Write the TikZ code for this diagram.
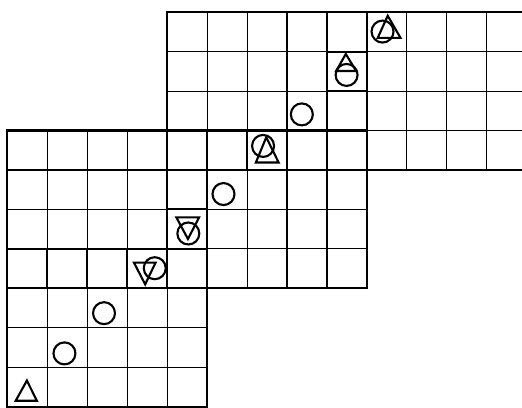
\documentclass[tikz,border=0pt]{standalone}
\usepackage{tikz}
\begin{document}
\begin{tikzpicture}[yscale=0.987,
    gridline/.style={line width=0.8pt},
    boxline/.style={line width=1.5pt, line cap=rect},
    ring/.style={draw, circle, line width=1.5pt, minimum size=0.55cm, inner sep=0pt},
    tri/.style={line width=1.5pt, line join=miter}]
        \useasboundingbox (-0.183,-0.033) rectangle (12.88,10.31);
        \clip (-0.183,-0.033) rectangle (12.88,10.31);

        % Board
        \begin{scope}
            \clip (0,0) -- (5,0) -- (5,3) -- (9,3) -- (9,6) -- (14,6) -- (14,10)
                -- (4,10) -- (4,7) -- (0,7) -- cycle;
            \draw[gridline] (0,0) grid (14,10);
        \end{scope}

        % Heavy lines
        \draw[boxline] (0,0) -- (5,0) -- (5,3) -- (9,3) -- (9,6) -- (14,6) -- (14,10)
            -- (4,10) -- (4,7) -- (0,7) -- cycle;
        \draw[boxline] (4,7) -- (9,7) -- (9,6);
        \draw[boxline] (4,7) -- (4,6) -- (9,6);
        \draw[boxline] (0,3) -- (5,3) -- (5,7);
        \draw[boxline] (4,3) -- (4,7);
        \draw[boxline] (0,4) -- (5,4);
        \draw[boxline] (1,3) -- (1,4) (2,3) -- (2,4) (3,3) -- (3,4);
        \draw[boxline] (4,5) -- (5,5);
        \draw[boxline] (6,6) -- (6,7) (7,6) -- (7,7);
        \draw[boxline] (8,6) -- (8,10) (9,6) -- (9,10);
        \draw[boxline] (8,8) -- (9,8) (8,9) -- (9,9);

        % Circles
        \node[ring] (c1) at (1.43,1.35) {};
        \node[ring] (c2) at (2.42,2.37) {};
        \node[ring] (c3) at (3.69,3.51) {};
        \node[ring] (c4) at (4.53,4.39) {};
        \node[ring] (c5) at (5.41,5.39) {};
        \node[ring] (c6) at (6.40,6.61) {};
        \node[ring] (c7) at (7.37,7.41) {};
        \node[ring] (c8) at (8.49,8.41) {};
        \node[ring] (c9) at (9.39,9.51) {};

        % Triangles
        \draw[tri] (0.21,0.15) -- (0.74,0.15) -- (0.49,0.66) -- cycle;
        \draw[tri] (3.17,3.65) -- (3.71,3.65) -- (3.45,3.10) -- cycle;
        \draw[tri] (4.23,4.80) -- (4.80,4.80) -- (4.52,4.25) -- cycle;
        \draw[tri] (6.22,6.19) -- (6.79,6.19) -- (6.48,6.83) -- cycle;
        \draw[tri] (8.23,8.51) -- (8.73,8.51) -- (8.47,8.94) -- cycle;
        \draw[tri] (9.27,9.35) -- (9.84,9.35) -- (9.52,9.91) -- cycle;
    \end{tikzpicture}
\end{document}
